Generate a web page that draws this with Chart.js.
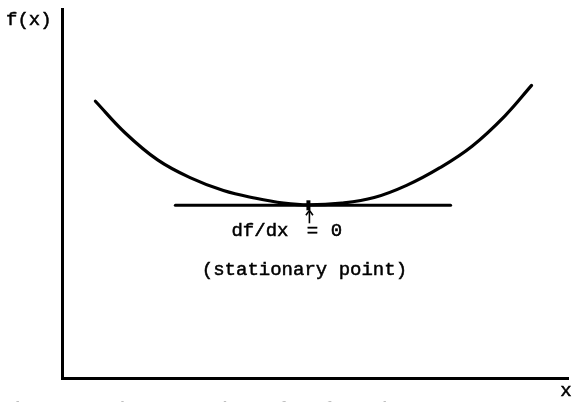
<!DOCTYPE html>
<html>
<head>
<meta charset="utf-8">
<script src="https://cdn.jsdelivr.net/npm/chart.js@4/dist/chart.umd.min.js"></script>
<style>
  html, body { margin: 0; padding: 0; background: #fff; }
  #wrap { width: 577px; height: 402px; position: relative; }
</style>
</head>
<body>
<div id="wrap"><canvas id="c" width="577" height="402"></canvas></div>
<script>
// f(x): a smooth curve with a single minimum
const curveX = [0.66, 1.25, 1.89, 2.53, 3.19, 3.83, 4.38, 4.87, 5.53, 6.17, 6.81, 7.47, 8.11, 8.75, 9.28];
const curveY = [7.50, 6.64, 5.91, 5.43, 5.08, 4.87, 4.74, 4.69, 4.74, 4.89, 5.22, 5.70, 6.29, 7.10, 7.93];

// horizontal tangent through the minimum
const tangentX = [2.24, 7.68];
const tangentY = [4.68, 4.68];

// the stationary point itself
const stationaryX = [4.87];
const stationaryY = [4.68];

const axisLabels = { y: 'f(x)', x: 'x' };
const noteParts = ['df/dx', '=', '0'];
const noteBottom = '(stationary point)';
const caption = '(a)  A stationary point of a function';

const toPoints = (xs, ys) => xs.map((x, i) => ({ x: x, y: ys[i] }));

const MONO = '"Liberation Mono", "DejaVu Sans Mono", monospace';

function inkText(ctx, text, x, y) {
  ctx.fillText(text, x, y);
  ctx.strokeText(text, x, y);
}

const annotations = {
  id: 'annotations',
  afterDatasetsDraw(chart) {
    const ctx = chart.ctx;
    const xs = chart.scales.x, ys = chart.scales.y;
    const px = xs.getPixelForValue(stationaryX[0]);
    const py = ys.getPixelForValue(stationaryY[0]);
    ctx.save();
    ctx.fillStyle = '#000';
    ctx.strokeStyle = '#000';

    // arrow pointing up at the stationary point
    ctx.lineWidth = 1.6;
    ctx.beginPath();
    ctx.moveTo(px + 1, py + 18);
    ctx.lineTo(px + 1, py + 6);
    ctx.stroke();
    ctx.beginPath();
    ctx.moveTo(px - 2.5, py + 10);
    ctx.lineTo(px + 1, py + 5);
    ctx.lineTo(px + 4.5, py + 10);
    ctx.stroke();

    // notes beneath the tangent
    ctx.lineWidth = 0.5;
    ctx.font = '19px ' + MONO;
    ctx.textBaseline = 'middle';
    ctx.textAlign = 'left';
    inkText(ctx, noteParts[0], px - 77, py + 26);
    ctx.textAlign = 'center';
    inkText(ctx, noteParts[1], px + 4, py + 26);
    inkText(ctx, noteParts[2], px + 28, py + 26);

    inkText(ctx, noteBottom, px - 4, py + 65);

    // axis names
    ctx.textAlign = 'left';
    inkText(ctx, axisLabels.y, 6, 20);
    ctx.textAlign = 'center';
    inkText(ctx, axisLabels.x, 566, 391);

    // caption running off the lower edge
    ctx.textAlign = 'left';
    ctx.textBaseline = 'alphabetic';
    inkText(ctx, caption, -9, 415);
    ctx.restore();
  }
};

new Chart(document.getElementById('c'), {
  type: 'scatter',
  data: {
    datasets: [
      {
        data: toPoints(curveX, curveY),
        showLine: true,
        borderColor: '#000',
        borderWidth: 3.2,
        pointRadius: 0,
        tension: 0.4,
        borderCapStyle: 'round'
      },
      {
        data: toPoints(tangentX, tangentY),
        showLine: true,
        borderColor: '#000',
        borderWidth: 3,
        pointRadius: 0,
        borderCapStyle: 'round'
      },
      {
        data: toPoints(stationaryX, stationaryY),
        showLine: false,
        pointStyle: 'line',
        rotation: 90,
        pointRadius: 5,
        borderWidth: 4,
        borderColor: '#000',
        pointBorderColor: '#000'
      }
    ]
  },
  options: {
    responsive: false,
    animation: false,
    layout: { padding: { left: 62, top: 5, right: 1, bottom: 24 } },
    plugins: { legend: { display: false }, tooltip: { enabled: false } },
    scales: {
      x: {
        type: 'linear', min: 0, max: 10,
        grid: { display: false, drawTicks: false },
        ticks: { display: false },
        border: { display: true, color: '#000', width: 3 }
      },
      y: {
        type: 'linear', min: 0, max: 10,
        grid: { display: false, drawTicks: false },
        ticks: { display: false },
        border: { display: true, color: '#000', width: 3 }
      }
    }
  },
  plugins: [annotations]
});
</script>
</body>
</html>
